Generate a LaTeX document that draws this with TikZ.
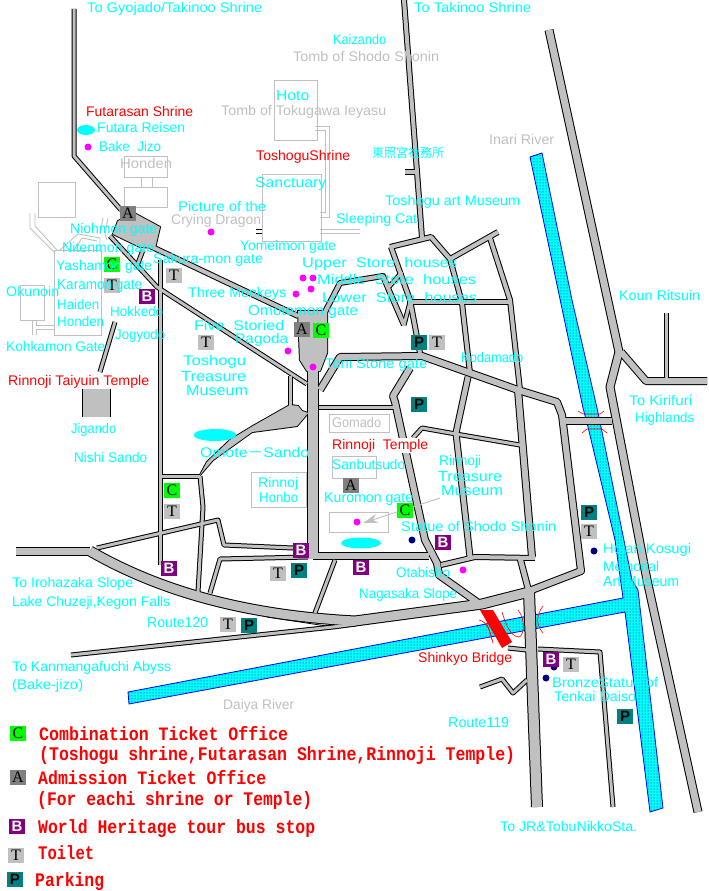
\documentclass[tikz,border=0pt]{standalone}
\usepackage{fontspec}
\usepackage{graphicx}
\setmainfont{Liberation Sans}
\newfontfamily\lgdfont{Liberation Mono}
\newfontfamily\cjkfont{Noto Sans CJK JP}
\newfontfamily\symserif{Liberation Serif}
\usetikzlibrary{patterns,arrows.meta}
\definecolor{cy}{HTML}{00FFFF}
\definecolor{rdg}{HTML}{C0C0C0}
\definecolor{symC}{HTML}{00FF00}
\definecolor{symA}{HTML}{808080}
\definecolor{symB}{HTML}{800080}
\definecolor{symP}{HTML}{008080}
\definecolor{mag}{HTML}{FF00FF}
\definecolor{nvy}{HTML}{000080}
\newcounter{lbl}
\newcommand{\lb}[5]{% style, x1, x2, y, text
  \stepcounter{lbl}%
  \pgfmathsetmacro{\lbw}{#3-#2}%
  \node[#1,anchor=base west,inner sep=0pt] (lbl\thelbl) at (#2,#4+5) {\resizebox*{\lbw pt}{13pt}{\vphantom{Ag}#5}};}
\newcommand{\lbf}[5]{% white-backed label
  \stepcounter{lbl}%
  \pgfmathsetmacro{\lbw}{#3-#2}%
  \node[#1,anchor=base west,inner sep=1pt,fill=white] (lbl\thelbl) at (#2,#4+5) {\resizebox*{\lbw pt}{13pt}{\vphantom{Ag}#5}};}
\newcommand{\lgd}[4]{% legend
  \stepcounter{lbl}%
  \pgfmathsetmacro{\lbw}{#2-#1}%
  \node[text=red,anchor=base west,inner sep=0pt] (lbl\thelbl) at (#1,#3+6) {\resizebox*{\lbw pt}{18pt}{\lgdfont\bfseries\vphantom{(Ag)}#4}};}
\newcommand{\roadnet}{%
  % north-west road and plaza
  \draw[rd=3] (74,9) -- (74,156) -- (121,210);
  \filldraw[rp] (118,221) -- (134,213) -- (160,227) -- (155,248) -- (140,247) -- (113,234) -- cycle;
  \draw[rd=3] (110,236) -- (157,287) -- (307,384);
  \draw[rd=4] (150,246) -- (298,316);
  \draw[rd=3] (143,250) -- (137,266);
  \draw[rd=3] (160,260) -- (160,565);
  \draw[rd=3] (115,322) -- (100,372);
  % north-middle road and block
  \draw[rd=4] (404,0) -- (422,238);
  \draw[rd=4] (405,172) -- (417,172);
  \draw[rd=4] (390,247) -- (431,237) -- (450,259) -- (462,303) -- (470,373);
  \draw[rd=4] (450,259) -- (498,232);
  \draw[rd=4] (391,247) -- (410,300) -- (420,353);
  \draw[rd=4] (325,312) -- (340,283) -- (383,276) -- (388,288) -- (404,325);
  \draw[rd=3] (388,288) -- (402,272);
  \draw[rd=3] (404,325) -- (410,302);
  \draw[rd=4] (408,302) -- (511,302);
  \draw[rd=4] (490,238) -- (510,300) -- (520,390);
  % east road
  \draw[rd=7] (549,30) -- (619,352) -- (610,387) -- (647,580) -- (698,812);
  \draw[rd=6] (621,352) -- (646,381) -- (707,381);
  \draw[rd=3] (666,313) -- (666,379);
  \draw[rd=6] (563,421) -- (612,421);
  % main east-west
  \draw[rd=6] (320,390) -- (340,357) -- (422,356) -- (470,373) -- (518,390) -- (557,402) -- (562,415) -- (581,571) -- (529,591);
  % southern blocks
  \draw[rd=6] (518,390) -- (532,557);
  \draw[rd=4] (535,558) -- (475,557) -- (441,565);
  \draw[rd=5] (520,558) -- (529,592);
  \draw[rd=5] (468,377) -- (456,433) -- (470,557);
  \draw[rd=3] (413,438) -- (422,428) -- (456,434) -- (520,445);
  \draw[rd=6] (410,368) -- (393,396) -- (395,402) -- (425,540) -- (437,563) -- (439,575) -- (477,602);
  \draw[rd=3] (319,407) -- (394,407);
  % central
  \filldraw[rp] (298,311) -- (327,311) -- (327,353) -- (320,371) -- (307,371) -- (300,360) -- cycle;
  \draw[rd=10] (313,365) -- (313,559);
  \draw[rd=6] (313,556) -- (429,556);
  \draw[rd=3] (308,557) -- (220,559) -- (210,593);
  \draw[rd=3] (293,548) -- (224,545) -- (218,520) -- (97,548);
  \draw[rd=3] (335,560) -- (315,613);
  % Omote-sando
  \draw[rd=3] (290,376) -- (290,406);
  \filldraw[rp] (200,475) -- (213,460) -- (252,432) -- (297,426) -- (308,413) -- (302,411) -- (298,406) -- (290,405) -- (253,426) -- (230,440) -- (207,462) -- cycle;
  \draw[rd=3] (160,476) -- (200,476);
  \draw[rd=3] (200,476) -- (203,507) -- (198,592);
  % west main and big curve
  \draw[rd=7] (16,551) -- (90,551);
  \draw[rd=3] (71,655) -- (333,627) -- (356,624);
  \draw[rd=9] (90,551) .. controls (170,597) and (260,616) .. (355,621) -- (482,604) -- (529,592);
  % south main
  \draw[rd=10] (529,592) -- (537,807);
  \draw[rd=3] (508,648) -- (527,650);
  \draw[rd=3] (538,649) -- (600,652) -- (613,807);
  \draw[rd=3] (480,687) -- (502,679) -- (513,693) -- (527,680);
  % Jigando block
  \fill[fill=\rdcol] (83,387) rectangle (110,417);
}
\tikzset{
  x=1pt,y=-1pt,
  rd/.style={line width=#1pt+\rdextra pt,draw=\rdcol,line join=round},
  rp/.style={line width=\rdextra pt+0.01pt,draw=\rdcol,fill=\rdcol,line join=round},
  thing/.style={draw=rdg,line width=0.9pt},
  river/.style={draw=blue,line width=0.8pt,fill=cy},
  riverdots/.style={pattern=dots,pattern color=nvy},
  cyt/.style={text=cy},
  grt/.style={text=rdg},
  ret/.style={text=red},
  sym/.style={minimum width=16pt,minimum height=15pt,inner sep=0pt},
  symc/.style={sym,fill=symC,text=black,font=\symserif\fontsize{16}{16}\selectfont},
  syma/.style={sym,fill=symA,text=black,font=\symserif\fontsize{16}{16}\selectfont},
  symb/.style={sym,fill=symB,text=white,font=\bfseries\fontsize{15}{15}\selectfont},
  symt/.style={sym,fill=rdg,text=black,font=\symserif\fontsize{16}{16}\selectfont},
  symp/.style={sym,fill=symP,text=black,font=\bfseries\fontsize{15}{15}\selectfont},
  pond/.style={fill=cy,draw=none},
  dotm/.style={fill=mag,draw=none},
  dotn/.style={fill=nvy,draw=none},
  bridgearc/.style={draw=red,line width=0.6pt},
}
\begin{document}
\begin{tikzpicture}
\useasboundingbox (0,0) rectangle (709,891);
\fill[white] (0,0) rectangle (709,891);
% rivers
\path[river] (530,157) -- (542,153) -- (572,300) -- (597,408) -- (601,427) -- (632,580) -- (638,590) -- (663,808) -- (650,812) -- (625,612) -- (129,704) -- (128,692) -- (623,598) -- (615,540) -- (588,427) -- (583,408) -- cycle;
\path[riverdots] (530,157) -- (542,153) -- (572,300) -- (597,408) -- (601,427) -- (632,580) -- (638,590) -- (663,808) -- (650,812) -- (625,612) -- (129,704) -- (128,692) -- (623,598) -- (615,540) -- (588,427) -- (583,408) -- cycle;
% thin grey building outlines
\draw[thing] (274,80) rectangle (317,140);
\draw[thing] (315,126) -- (329,126) -- (329,217) -- (320,217);
\draw[thing] (315,130) -- (325,130) -- (325,212) -- (320,212);
\draw[thing] (262,174) rectangle (321,241);
\draw[thing] (320,229) -- (360,229);
\draw[thing] (320,233) -- (360,233);
\draw[black,line width=0.8pt] (256,229) -- (262,229);
\draw[black,line width=0.8pt] (256,233) -- (262,233);
\draw[thing] (124,156) rectangle (167,177);
\draw[thing] (141,177) -- (141,187);
\draw[thing] (152,177) -- (152,187);
\draw[thing] (124,187) rectangle (167,207);
\draw[thing] (38,182) rectangle (75,217);
\draw[thing] (54,250) rectangle (101,335);
\draw[thing] (30,213) -- (30,228) -- (54,252);
\draw[thing] (35,213) -- (35,226) -- (57,250);
\draw[thing] (60,250) -- (78,234) -- (100,238) -- (100,250);
\draw[thing] (74,250) -- (82,238) -- (97,241);
\draw[thing] (103,218) -- (100,234);
\draw[thing] (108,218) -- (105,234) -- (107,240);
\draw[thing] (20,285) rectangle (44,320);
\draw[thing] (32,320) -- (32,335);
\draw[thing] (36,320) -- (36,325) -- (55,325);
\draw[thing] (36,335) -- (36,329) -- (55,329);
\draw[thing] (329,414) rectangle (389,432);
\draw[thing] (332,456) rectangle (376,478);
\draw[thing] (329,512) rectangle (388,532);
\draw[thing] (251,472) rectangle (306,507);
% roads: dark outline pass, then grey pass
\def\rdextra{2}\def\rdcol{black}\roadnet
\draw[black,line width=0.8pt] (82.5,387) -- (82.5,417) (110.5,387) -- (110.5,417);
\draw[black,line width=0.8pt] (267,617) -- (333,627);
\def\rdextra{0}\def\rdcol{rdg}\roadnet
% ponds
\fill[pond] (86,130) ellipse [x radius=9,y radius=5];
\fill[pond] (215,435) ellipse [x radius=21.5,y radius=6];
\fill[pond] (361,543) ellipse [x radius=20,y radius=5.5];
% Shinkyo bridge and bridge marks
\fill[red] (480,610) -- (493,610) -- (512,642) -- (502,648) -- cycle;
\draw[bridgearc] (578,411) -- (583,414) -- (600,414) -- (604,411);
\draw[bridgearc] (582,433) -- (587,429) -- (602,429) -- (607,433);
\draw[bridgearc] (479,620) .. controls (488,622) and (490,632) .. (493,643);
\draw[bridgearc] (486,623) .. controls (490,630) and (491,636) .. (492,640);
\draw[bridgearc] (502,612) .. controls (506,625) and (510,636) .. (519,637) .. controls (524,636) and (526,620) .. (518,610);
\draw[bridgearc] (543,606) .. controls (536,615) and (536,625) .. (543,633);
% dots
\foreach \x/\y in {88/147,211/232,303/278,313/278,296/294,311/289,288/351,313/367,357/522,463/570}
  \fill[dotm] (\x,\y) circle [radius=3.5];
\foreach \x/\y in {412/540,594/551,546/678,554/667}
  \fill[dotn] (\x,\y) circle [radius=3.5];
% arrow
\coordinate (arrowtail) at (440,498);
\coordinate (arrowhead) at (363,523);
\draw[rdg,line width=0.9pt,-{Stealth[length=15pt,width=9pt]}] (arrowtail) -- (arrowhead);
% symbols
\foreach \n/\x/\y in {c1/112/264,c2/321/330.5,c3/172/490.5,c4/405/510.5,c5/18/733}
  \node[symc] (\n) at (\x,\y) {C};
\foreach \n/\x/\y in {a1/128/213.5,a2/302/329.5,a3/351/485.5,a4/18/777}
  \node[syma] (\n) at (\x,\y) {A};
\foreach \n/\x/\y in {t1/174/275.5,t2/112/285.5,t3/206/342.5,t4/172/511.5,t5/437/342.5,t6/589/531.5,t7/278/573.5,t8/228/624.5,t9/571/664.5,t10/16/855.5}
  \node[symt] (\n) at (\x,\y) {T};
\foreach \n/\x/\y in {b1/147/296.5,b2/301/550.5,b3/169/568.5,b4/361/567.5,b5/443/542.5,b6/551/659.5,b7/17/826.5}
  \node[symb] (\n) at (\x,\y) {B};
\foreach \n/\x/\y in {p1/419/342.5,p2/419/404.5,p3/589/512.5,p4/299/570.5,p5/249/625.5,p6/625/716.5,p7/15/879}
  \node[symp] (\n) at (\x,\y) {P};
% cyan labels
\lb{cyt}{87}{262}{8}{To Gyojado/Takinoo Shrine}
\lb{cyt}{414}{531}{8}{To Takinoo Shrine}
\lb{cyt}{333}{386}{40}{Kaizando}
\lb{grt}{293}{439}{57}{Tomb of Shodo Shonin}
\lb{cyt}{276}{309}{95}{Hoto}
\lb{grt}{221}{386}{110}{Tomb of Tokugawa Ieyasu}
\lb{ret}{86}{193}{111}{Futarasan Shrine}
\lb{cyt}{97}{185}{127}{Futara Reisen}
\lb{cyt}{99}{161}{146}{Bake\ \ Jizo}
\lb{grt}{120}{172}{163}{Honden}
\lb{ret}{256}{350}{155}{ToshoguShrine}
\lb{cyt}{372}{444}{152}{\cjkfont 東照宮社務所}
\lb{grt}{489}{554}{139}{Inari River}
\lb{cyt}{255}{326}{182}{Sanctuary}
\lb{cyt}{385}{520}{200}{Toshogu art Museum}
\lb{cyt}{178}{266}{206}{Picture of the}
\lb{grt}{171}{261}{219}{Crying Dragon}
\lb{cyt}{336}{417}{218}{Sleeping Cat}
\lb{cyt}{70}{157}{228}{Niohmon gate}
\lb{cyt}{62}{154}{247}{Nitenmon gate}
\lb{cyt}{240}{336}{245}{Yomeimon gate}
\lb{cyt}{153}{263}{258}{Sakura-mon gate}
\lb{cyt}{302}{457}{262}{Upper\ \ Store\ \ houses}
\lb{cyt}{317}{476}{279}{Middle\ \ Store\ \ houses}
\lb{cyt}{322}{477}{297}{Lower\ \ Store\ \ houses}
\lb{cyt}{56}{152}{265}{Yashamon gate}
\lb{cyt}{57}{142}{284}{Karamon gate}
\lb{cyt}{6}{59}{291}{Okunoin}
\lb{cyt}{188}{286}{292}{Three Monkeys}
\lb{cyt}{248}{358}{310}{Omotemon gate}
\lb{cyt}{57}{99}{304}{Haiden}
\lb{cyt}{110}{163}{311}{Hokkedo}
\lb{cyt}{57}{104}{321}{Honden}
\lb{cyt}{194}{284}{325}{Five\ \ Storied}
\lb{cyt}{115}{165}{334}{Jogyodo}
\lb{cyt}{235}{288}{338}{Pagoda}
\lb{cyt}{6}{105}{346}{Kohkamon Gate}
\lb{cyt}{461}{523}{357}{Kodamado}
\lb{cyt}{325}{427}{363}{Torii Stone gate}
\lb{cyt}{183}{246}{360}{Toshogu}
\lb{cyt}{181}{246}{376}{Treasure}
\lb{cyt}{186}{248}{390}{Museum}
\lbf{ret}{7}{148}{380}{Rinnoji Taiyuin Temple}
\lb{cyt}{71}{116}{428}{Jigando}
\lb{cyt}{74}{147}{457}{Nishi Sando}
\lb{cyt}{200}{309}{452}{Omote{\cjkfont －}Sando}
\lb{grt}{332}{381}{422}{Gomado}
\lbf{ret}{331}{427}{444}{Rinnoji\ \ Temple}
\lb{cyt}{619}{700}{295}{Koun Ritsuin}
\lb{cyt}{629}{692}{400}{To Kirifuri}
\lb{cyt}{635}{694}{417}{Highlands}
\lb{cyt}{332}{405}{464}{Sanbutsudo}
\lb{cyt}{439}{481}{460}{Rinnoji}
\lb{cyt}{438}{502}{476}{Treasure}
\lb{cyt}{441}{503}{490}{Museum}
\lb{cyt}{324}{413}{497}{Kuromon gate}
\lb{cyt}{258}{298}{482}{Rinnoj}
\lb{cyt}{259}{298}{497}{Honbo}
\lb{cyt}{401}{556}{526}{Statue of Shodo Shonin}
\lb{cyt}{603}{691}{548}{Hoian Kosugi}
\lb{cyt}{603}{659}{566}{Memorial}
\lb{cyt}{603}{679}{581}{Art Museum}
\lb{cyt}{12}{133}{582}{To Irohazaka Slope}
\lb{cyt}{12}{170}{601}{Lake Chuzeji,Kegon Falls}
\lb{cyt}{396}{450}{572}{Otabisho}
\lb{cyt}{359}{457}{593}{Nagasaka Slope}
\lb{cyt}{147}{208}{622}{Route120}
\lb{ret}{418}{512}{657}{Shinkyo Bridge}
\lb{cyt}{12}{171}{666}{To Kanmangafuchi Abyss}
\lb{cyt}{12}{83}{684}{(Bake-jizo)}
\lb{cyt}{552}{658}{682}{BronzeStatue of}
\lb{cyt}{554}{636}{696}{Tenkai Daiso}
\lb{grt}{223}{294}{704}{Daiya River}
\lb{cyt}{448}{509}{722}{Route119}
\lb{cyt}{500}{637}{826}{To JR\&TobuNikkoSta.}
% legend
\lgd{39}{288}{734}{Combination Ticket Office}
\lgd{39}{515}{754}{(Toshogu shrine,Futarasan Shrine,Rinnoji Temple)}
\lgd{38}{266}{778}{Admission Ticket Office}
\lgd{37}{312}{799}{(For eachi shrine or Temple)}
\lgd{38}{315}{827}{World Heritage tour bus stop}
\lgd{38}{94}{853}{Toilet}
\lgd{35}{104}{880}{Parking}
\end{tikzpicture}
\end{document}
